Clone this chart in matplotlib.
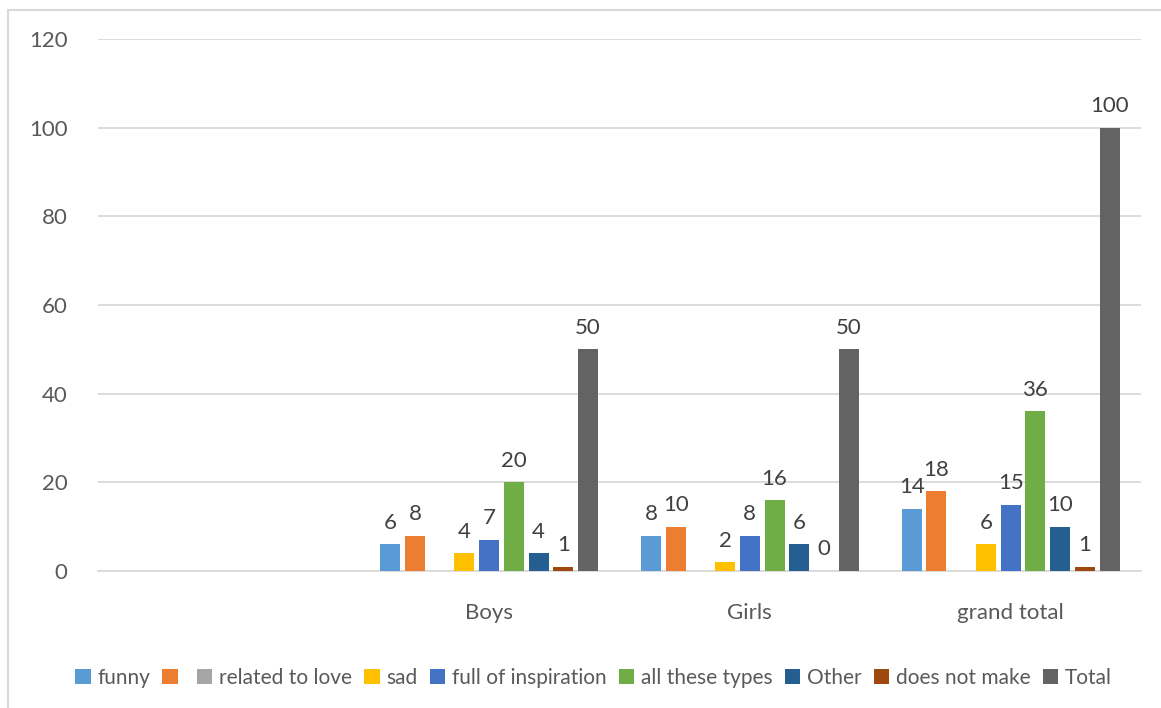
import numpy as np
import matplotlib
matplotlib.use("Agg")
import matplotlib.pyplot as plt
from matplotlib.patches import Rectangle

plt.rcParams['font.family'] = ['Lato', 'DejaVu Sans']

categories = ["", "Boys", "Girls", "grand total"]
series_names = ["funny", "", "related to love", "sad", "full of inspiration",
                "all these types", "Other", "does not make", "Total"]
colors = ["#5B9BD5", "#ED7D31", "#A5A5A5", "#FFC000", "#4472C4",
          "#70AD47", "#255E91", "#9E480E", "#636363"]

nan = np.nan
funny = [nan, 6, 8, 14]
orange = [nan, 8, 10, 18]
love = [nan, nan, nan, nan]
sad = [nan, 4, 2, 6]
inspiration = [nan, 7, 8, 15]
all_types = [nan, 20, 16, 36]
other = [nan, 4, 6, 10]
does_not_make = [nan, 1, 0, 1]
total = [nan, 50, 50, 100]
values = [funny, orange, love, sad, inspiration, all_types, other, does_not_make, total]

fig = plt.figure(figsize=(11.61, 7.08), dpi=100)
ax = fig.add_axes([98 / 1161, 1 - 571 / 708, 1043 / 1161, 532 / 708])

x = np.arange(len(categories))
pitch = 0.0949
width = 0.077
n = len(series_names)
handles = []
for i, (name, vals, c) in enumerate(zip(series_names, values, colors)):
    pos = x + (i - (n - 1) / 2) * pitch
    handles.append(ax.bar(pos, vals, width, color=c, zorder=3))
    for xp, v in zip(pos, vals):
        if not np.isnan(v):
            ax.text(xp, v + 2.6, f"{v:g}", ha="center", va="bottom",
                    fontsize=16, color="#404040")

ax.set_xlim(-0.5, 3.5)
ax.set_ylim(0, 120)
ax.set_yticks(range(0, 121, 20))
ax.set_xticks(x)
ax.set_xticklabels(categories)
ax.yaxis.grid(True, color="#D9D9D9", linewidth=1.3, zorder=0)
ax.set_axisbelow(True)
for s in ["top", "right", "left"]:
    ax.spines[s].set_visible(False)
ax.spines["bottom"].set_color("#D9D9D9")
ax.spines["bottom"].set_linewidth(1.3)
ax.tick_params(axis="both", length=0, labelsize=16, colors="#595959")
ax.tick_params(axis="y", pad=22)
ax.tick_params(axis="x", pad=23)

ax.legend(handles, series_names, loc="upper center",
          bbox_to_anchor=(0.475, -0.147), ncol=9,
          frameon=False, fontsize=15, labelcolor="#595959",
          handlelength=0.75, handleheight=0.75, handletextpad=0.3,
          columnspacing=0.6)

fig.patches.append(Rectangle((8 / 1161, -0.1), 1.2, 1 - 10 / 708 + 0.1,
                             transform=fig.transFigure, fill=False,
                             edgecolor="#D9D9D9", linewidth=1.5))

fig.savefig("out.png", dpi=100)
